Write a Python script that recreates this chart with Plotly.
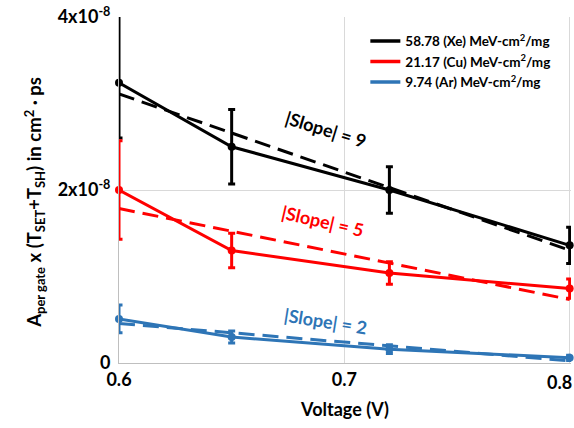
import numpy as np
import plotly.graph_objects as go

SCALE = 1e-8
voltage = [0.6, 0.65, 0.72, 0.8]

series_names = [
    "58.78 (Xe) MeV-cm<sup>2</sup>/mg",
    "21.17 (Cu) MeV-cm<sup>2</sup>/mg",
    "9.74 (Ar) MeV-cm<sup>2</sup>/mg",
]
xe_vals = [3.24, 2.50, 2.00, 1.36]
xe_err_plus = [0.90, 0.43, 0.27, 0.21]
xe_err_minus = [0.64, 0.43, 0.27, 0.21]
cu_vals = [2.00, 1.30, 1.04, 0.86]
cu_err = [0.57, 0.20, 0.13, 0.11]
ar_vals = [0.51, 0.30, 0.16, 0.06]
ar_err = [0.16, 0.07, 0.05, 0.03]

slope_labels = ["|Slope| = 9", "|Slope| = 5", "|Slope| = 2"]
y_tick_vals = [0, 2, 4]
y_tick_text = ["0", "2x10<sup>-8</sup>", "4x10<sup>-8</sup>"]
x_tick_vals = [0.6, 0.7, 0.8]
x_tick_text = ["0.6", "0.7", "0.8"]

colors = ["#000000", "#FF0000", "#2E75B6"]
FONT = "Lato"

fig = go.Figure()

data = [
    (xe_vals, xe_err_plus, xe_err_minus),
    (cu_vals, cu_err, cu_err),
    (ar_vals, ar_err, ar_err),
]

xv = np.array(voltage)
for (vals, ep, em), col, name in zip(data, colors, series_names):
    v = np.array(vals) * SCALE
    # linear trendline (least squares)
    k, b = np.polyfit(xv, v, 1)
    xf = np.array([voltage[0], voltage[-1]])
    fig.add_trace(go.Scatter(
        x=xf, y=k * xf + b, mode="lines",
        line=dict(color=col, width=3, dash="16px,8px"),
        showlegend=False, hoverinfo="skip"))
    fig.add_trace(go.Scatter(
        x=voltage, y=v, mode="lines+markers",
        line=dict(color=col, width=3),
        marker=dict(color=col, size=8),
        error_y=dict(type="data", symmetric=False,
                     array=list(np.array(ep) * SCALE),
                     arrayminus=list(np.array(em) * SCALE),
                     color=col, thickness=3, width=3.5),
        cliponaxis=False,
        showlegend=False))
    fig.add_trace(go.Scatter(
        x=[None], y=[None], mode="lines",
        line=dict(color=col, width=3.5), name="<b>" + name + "</b>"))

# slope annotations (data coordinates)
ann_pos = [(0.6915, 2.70, 17), (0.6905, 1.64, 13), (0.6915, 0.49, 9)]
for (ax, ay, ang), col, txt in zip(ann_pos, colors, slope_labels):
    fig.add_annotation(x=ax, y=ay * SCALE, text="<b>" + txt + "</b>",
                       showarrow=False, textangle=ang,
                       font=dict(family=FONT, size=18, color=col))

# y-axis title as annotation
fig.add_annotation(
    xref="paper", yref="paper", x=-0.222, y=0.465,
    text="<b>A<sub>per gate</sub> x (T<sub>SET</sub>+T<sub>SH</sub>) in cm<sup>2</sup> · ps</b>",
    showarrow=False, textangle=-90,
    font=dict(family=FONT, size=18.5, color="#000000"))

# last x tick label, kept inside the page like the reference
fig.add_annotation(
    x=x_tick_vals[-1], xref="x", yref="paper", y=0, yanchor="top", yshift=-6,
    xanchor="right", xshift=4, showarrow=False,
    text="<b>" + x_tick_text[-1] + "</b>", font=dict(family=FONT, size=18, color="#000000"))

fig.update_layout(
    width=574, height=428,
    margin=dict(l=119, r=3, t=17, b=65),
    paper_bgcolor="white", plot_bgcolor="white",
    font=dict(family=FONT, color="#000000"),
    legend=dict(x=0.545, y=0.975, xanchor="left", yanchor="top",
                bgcolor="white", font=dict(family=FONT, size=13.5, color="#000000"),
                itemwidth=30, tracegroupgap=0),
)
fig.update_xaxes(
    range=[0.6, 0.8006], tickvals=x_tick_vals,
    ticktext=["<b>" + t + "</b>" for t in x_tick_text[:-1]] + [""],
    tickfont=dict(family=FONT, size=18),
    showgrid=True, gridcolor="#D9D9D9", gridwidth=1,
    showline=True, linecolor="#BFBFBF", linewidth=1,
    ticks="", zeroline=False,
    title=dict(text="<b>Voltage (V)</b>", font=dict(family=FONT, size=18), standoff=14),
)
fig.update_yaxes(
    range=[0, 4 * SCALE], tickvals=[t * SCALE for t in y_tick_vals],
    ticktext=["<b>" + t + "</b>" for t in y_tick_text],
    tickfont=dict(family=FONT, size=18),
    showgrid=True, gridcolor="#D9D9D9", gridwidth=1,
    showline=True, linecolor="#BFBFBF", linewidth=1,
    ticks="", zeroline=False, ticklabelstandoff=4,
)

fig.write_html("out.html")
